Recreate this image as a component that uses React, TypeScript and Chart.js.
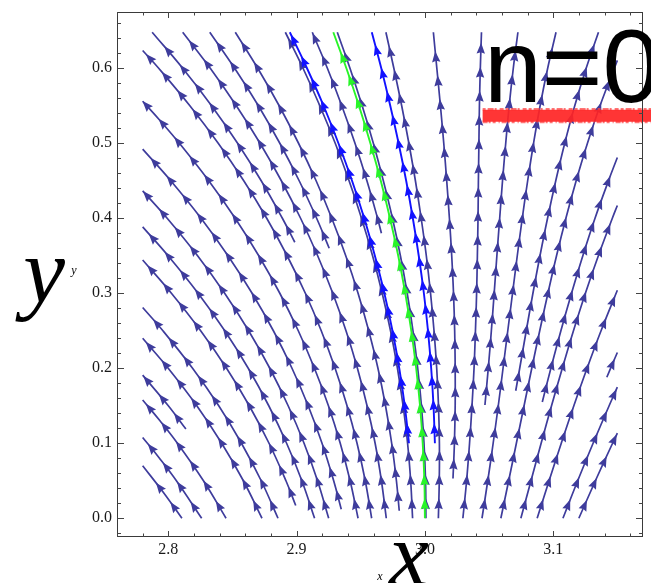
import React, { useEffect, useRef } from "react";
import { Chart, registerables } from "chart.js";

Chart.register(...registerables);

type Pt = [number, number];

// Axis extents and labelled ticks
const xRange: Pt = [2.76, 3.17];
const yRange: Pt = [-0.025, 0.675];
const xMajorTicks = [2.8, 2.9, 3.0, 3.1];
const yMajorTicks = [0.0, 0.1, 0.2, 0.3, 0.4, 0.5, 0.6];
const minorStep = 0.02;

// Streamlines left of the separatrix (flowing up and to the left)
const streamL01: Pt[] = [[2.8106, 0], [2.7959, 0.035], [2.78, 0.07]];
const streamL02: Pt[] = [[2.826, 0], [2.8063, 0.05], [2.7931, 0.08], [2.78, 0.1077]];
const streamL03: Pt[] = [[2.845, 0], [2.8274, 0.05], [2.8071, 0.1], [2.7935, 0.13], [2.78, 0.1577]];
const streamL04: Pt[] = [[2.8137, 0.119], [2.8, 0.15], [2.78, 0.1908]];
const streamL05: Pt[] = [[2.873, 0], [2.8585, 0.05], [2.8416, 0.1], [2.8222, 0.15], [2.7999, 0.2], [2.78, 0.24]];
const streamL06: Pt[] = [[2.8855, 0], [2.8724, 0.05], [2.857, 0.1], [2.8393, 0.15], [2.8189, 0.2], [2.7958, 0.25], [2.78, 0.281]];
const streamL07: Pt[] = [[2.8993, 0.017], [2.8917, 0.05], [2.8785, 0.1], [2.8631, 0.15], [2.8454, 0.2], [2.8252, 0.25], [2.8024, 0.3], [2.78, 0.3443]];
const streamL08: Pt[] = [[2.914, 0], [2.9041, 0.05], [2.8922, 0.1], [2.8783, 0.15], [2.8623, 0.2], [2.844, 0.25], [2.8232, 0.3], [2.7998, 0.35], [2.78, 0.3885]];
const streamL09: Pt[] = [[2.925, 0], [2.9163, 0.05], [2.9058, 0.1], [2.8934, 0.15], [2.8791, 0.2], [2.8626, 0.25], [2.8439, 0.3], [2.8228, 0.35], [2.7991, 0.4], [2.78, 0.4365]];
const streamL10: Pt[] = [[2.9348, 0.012], [2.9289, 0.05], [2.9198, 0.1], [2.909, 0.15], [2.8964, 0.2], [2.8819, 0.25], [2.8653, 0.3], [2.8465, 0.35], [2.8255, 0.4], [2.8019, 0.45], [2.78, 0.4922]];
const streamL11: Pt[] = [[2.9479, 0], [2.9417, 0.05], [2.934, 0.1], [2.9248, 0.15], [2.9139, 0.2], [2.9013, 0.25], [2.8869, 0.3], [2.8705, 0.35], [2.8521, 0.4], [2.8315, 0.45], [2.8086, 0.5], [2.7937, 0.53], [2.78, 0.556]];
const streamL12: Pt[] = [[2.9585, 0], [2.9535, 0.05], [2.9471, 0.1], [2.9393, 0.15], [2.93, 0.2], [2.9192, 0.25], [2.9068, 0.3], [2.8926, 0.35], [2.8767, 0.4], [2.8588, 0.45], [2.8389, 0.5], [2.8168, 0.55], [2.7925, 0.6], [2.78, 0.6237]];
const streamL13: Pt[] = [[2.8986, 0.368], [2.8889, 0.4], [2.8724, 0.45], [2.854, 0.5], [2.8337, 0.55], [2.8112, 0.6], [2.7874, 0.648]];
const streamL14: Pt[] = [[2.9699, 0], [2.9661, 0.05], [2.9612, 0.1], [2.9549, 0.15], [2.9474, 0.2], [2.9385, 0.25], [2.9282, 0.3], [2.9164, 0.35], [2.9031, 0.4], [2.8881, 0.45], [2.8715, 0.5], [2.853, 0.55], [2.8327, 0.6], [2.8112, 0.648]];
const streamL15: Pt[] = [[2.9254, 0.36], [2.9156, 0.4], [2.902, 0.45], [2.8869, 0.5], [2.8702, 0.55], [2.8517, 0.6], [2.8323, 0.648]];
const streamL16: Pt[] = [[2.98, 0.01], [2.9778, 0.05], [2.9741, 0.1], [2.9693, 0.15], [2.9634, 0.2], [2.9562, 0.25], [2.9479, 0.3], [2.9383, 0.35], [2.9274, 0.4], [2.9152, 0.45], [2.9015, 0.5], [2.8864, 0.55], [2.8697, 0.6], [2.8522, 0.648]];
const streamL17: Pt[] = [[2.9904, 0], [2.9889, 0.05], [2.9865, 0.1], [2.983, 0.15], [2.9786, 0.2], [2.9732, 0.25], [2.9667, 0.3], [2.9592, 0.35], [2.9506, 0.4], [2.9409, 0.45], [2.9301, 0.5], [2.9181, 0.55], [2.905, 0.6], [2.8912, 0.648]];
const streamL18: Pt[] = [[2.9661, 0.38], [2.9631, 0.4], [2.9548, 0.45], [2.9455, 0.5], [2.9352, 0.55], [2.924, 0.6], [2.9122, 0.648]];

// Streamline running alongside the separatrix
const streamC01: Pt[] = [[3.0008, 0], [3.0005, 0.05], [2.9993, 0.1], [2.9973, 0.15], [2.9944, 0.2], [2.9907, 0.25], [2.9862, 0.3], [2.9809, 0.35], [2.9747, 0.4], [2.9676, 0.45], [2.9598, 0.5], [2.9511, 0.55], [2.9416, 0.6], [2.9317, 0.648]];

// Streamlines right of the separatrix (flowing up and to the right)
const streamR01: Pt[] = [[3.0105, 0], [3.0112, 0.05], [3.0113, 0.1], [3.0106, 0.15], [3.0092, 0.2], [3.0071, 0.25], [3.0044, 0.3], [3.0011, 0.35], [2.9971, 0.4], [2.9926, 0.45], [2.9875, 0.5], [2.9819, 0.55], [2.9758, 0.6], [2.9696, 0.648]];
const streamR02: Pt[] = [[3.0219, 0.053], [3.023, 0.1], [3.0236, 0.15], [3.0236, 0.2], [3.0232, 0.25], [3.0223, 0.3], [3.0209, 0.35], [3.0191, 0.4], [3.017, 0.45], [3.0147, 0.5], [3.0121, 0.55], [3.0093, 0.6], [3.0066, 0.648]];
const streamR03: Pt[] = [[3.0296, 0], [3.0325, 0.05], [3.0348, 0.1], [3.0367, 0.15], [3.0383, 0.2], [3.0394, 0.25], [3.0403, 0.3], [3.0409, 0.35], [3.0414, 0.4], [3.0417, 0.45], [3.0421, 0.5], [3.0425, 0.55], [3.0432, 0.6], [3.0441, 0.648]];
const streamR04: Pt[] = [[3.0468, 0.151], [3.0494, 0.2], [3.0518, 0.25], [3.054, 0.3], [3.0561, 0.35], [3.0583, 0.4], [3.0605, 0.45], [3.063, 0.5], [3.0657, 0.55], [3.0689, 0.6], [3.0725, 0.648]];
const streamR05: Pt[] = [[3.0445, 0], [3.049, 0.05], [3.0532, 0.1], [3.0572, 0.15], [3.0609, 0.2], [3.0646, 0.25], [3.0683, 0.3], [3.072, 0.35], [3.0759, 0.4], [3.0801, 0.45], [3.0847, 0.5], [3.0898, 0.55], [3.0957, 0.6], [3.1022, 0.648]];
const streamR06: Pt[] = [[3.0708, 0.17], [3.0739, 0.2], [3.079, 0.25], [3.0842, 0.3], [3.0897, 0.35], [3.0956, 0.4], [3.102, 0.45], [3.109, 0.5], [3.1168, 0.55], [3.1257, 0.6], [3.1353, 0.648]];
const streamR07: Pt[] = [[3.0592, 0], [3.0653, 0.05], [3.0713, 0.1], [3.0773, 0.15], [3.0833, 0.2], [3.0895, 0.25], [3.0959, 0.3], [3.1026, 0.35], [3.1099, 0.4], [3.1179, 0.45], [3.1267, 0.5], [3.1365, 0.55], [3.15, 0.6105]];
const streamR08: Pt[] = [[3.0915, 0.155], [3.0982, 0.2], [3.106, 0.25], [3.1143, 0.3], [3.1231, 0.35], [3.1326, 0.4], [3.1431, 0.45], [3.15, 0.481]];
const streamR09: Pt[] = [[3.0748, 0], [3.0827, 0.05], [3.0906, 0.1], [3.0987, 0.15], [3.1071, 0.2], [3.1158, 0.25], [3.1251, 0.3], [3.1352, 0.35], [3.1461, 0.4], [3.15, 0.417]];
const streamR10: Pt[] = [[3.0875, 0], [3.0968, 0.05], [3.1063, 0.1], [3.1161, 0.15], [3.1264, 0.2], [3.1373, 0.25], [3.15, 0.304]];
const streamR11: Pt[] = [[3.1418, 0.188], [3.146, 0.205], [3.15, 0.221]];
const streamR12: Pt[] = [[3.1076, 0], [3.1191, 0.05], [3.1311, 0.1], [3.1436, 0.15], [3.15, 0.1748]];
const streamR13: Pt[] = [[3.12, 0], [3.1329, 0.05], [3.1463, 0.1], [3.15, 0.1134]];

// Highlighted trajectories
const trajBlueLeft: Pt[] = [[2.9876, 0.1], [2.9843, 0.15], [2.98, 0.2], [2.9747, 0.25], [2.9684, 0.3], [2.961, 0.35], [2.9527, 0.4], [2.9432, 0.45], [2.9326, 0.5], [2.921, 0.55], [2.9081, 0.6], [2.8947, 0.648]];
const trajBlueRight: Pt[] = [[3.0078, 0.1], [3.0067, 0.15], [3.0049, 0.2], [3.0024, 0.25], [2.9992, 0.3], [2.9952, 0.35], [2.9906, 0.4], [2.9854, 0.45], [2.9795, 0.5], [2.973, 0.55], [2.966, 0.6], [2.9586, 0.648]];
const trajGreen: Pt[] = [[3.0, 0], [2.9996, 0.05], [2.9983, 0.1], [2.9962, 0.15], [2.9932, 0.2], [2.9894, 0.25], [2.9847, 0.3], [2.9792, 0.35], [2.9728, 0.4], [2.9656, 0.45], [2.9575, 0.5], [2.9486, 0.55], [2.9388, 0.6], [2.9286, 0.648]];

// Red marker stroke under the "n=0" caption
const markerX: number[] = [3.045, 3.18];
const markerY = 0.5367;

const darkStreams: Pt[][] = [
  streamL01, streamL02, streamL03, streamL04, streamL05, streamL06, streamL07, streamL08, streamL09,
  streamL10, streamL11, streamL12, streamL13, streamL14, streamL15, streamL16, streamL17, streamL18,
  streamC01,
  streamR01, streamR02, streamR03, streamR04, streamR05, streamR06, streamR07, streamR08, streamR09,
  streamR10, streamR11, streamR12, streamR13,
];

const DARK = "rgb(62,60,156)";
const BLUE = "rgb(18,18,255)";
const GREEN = "rgb(40,245,40)";
const RED = "rgba(255,36,36,0.92)";
const SERIF = '"Liberation Serif", "Times New Roman", serif';
const SANS = '"Liberation Sans", Arial, sans-serif';

const toXY = (s: Pt[]) => s.map(([x, y]) => ({ x, y }));

function streamDataset(s: Pt[], color: string, width: number, order: number) {
  return {
    data: toXY(s),
    borderColor: color,
    backgroundColor: color,
    borderWidth: width,
    pointRadius: 0,
    tension: 0.4,
    showLine: true,
    fill: false,
    order,
    arrowColor: color,
  };
}

// Arrowheads spaced evenly along each rendered streamline
const arrowheads = {
  id: "arrowheads",
  afterDatasetDraw(chart: any, args: any) {
    const ds = chart.data.datasets[args.index];
    if (!ds || !ds.arrowColor) return;
    const pts: any[] = args.meta.data;
    if (!pts || pts.length < 2) return;
    const poly: number[][] = [];
    const steps = 16;
    for (let j = 0; j < pts.length - 1; j++) {
      const a = pts[j];
      const b = pts[j + 1];
      const c1x = a.cp2x ?? a.x, c1y = a.cp2y ?? a.y;
      const c2x = b.cp1x ?? b.x, c2y = b.cp1y ?? b.y;
      for (let k = j === 0 ? 0 : 1; k <= steps; k++) {
        const t = k / steps, m = 1 - t;
        poly.push([
          m * m * m * a.x + 3 * m * m * t * c1x + 3 * m * t * t * c2x + t * t * t * b.x,
          m * m * m * a.y + 3 * m * m * t * c1y + 3 * m * t * t * c2y + t * t * t * b.y,
        ]);
      }
    }
    const cum = [0];
    for (let i = 1; i < poly.length; i++) {
      cum.push(cum[i - 1] + Math.hypot(poly[i][0] - poly[i - 1][0], poly[i][1] - poly[i - 1][1]));
    }
    const total = cum[cum.length - 1];
    const at = (s: number) => {
      let i = 1;
      while (i < cum.length - 1 && cum[i] < s) i++;
      const seg = cum[i] - cum[i - 1] || 1;
      const t = (s - cum[i - 1]) / seg;
      return [poly[i - 1][0] + (poly[i][0] - poly[i - 1][0]) * t, poly[i - 1][1] + (poly[i][1] - poly[i - 1][1]) * t];
    };
    const ctx: CanvasRenderingContext2D = chart.ctx;
    const len = 11, half = 4.2, spacing = 24, offset = 14;
    ctx.save();
    ctx.fillStyle = ds.arrowColor;
    for (let s = offset; s <= total - 4; s += spacing) {
      const p = at(s);
      const q1 = at(Math.max(0, s - 3));
      const q2 = at(Math.min(total, s + 3));
      const ang = Math.atan2(q2[1] - q1[1], q2[0] - q1[0]);
      ctx.save();
      ctx.translate(p[0], p[1]);
      ctx.rotate(ang);
      ctx.beginPath();
      ctx.moveTo(len * 0.55, 0);
      ctx.lineTo(-len * 0.45, half);
      ctx.lineTo(-len * 0.32, 0);
      ctx.lineTo(-len * 0.45, -half);
      ctx.closePath();
      ctx.fill();
      ctx.restore();
    }
    ctx.restore();
  },
};

// Frame, inward tick marks on all four sides, and the large axis letters
const frameAndLabels = {
  id: "frameAndLabels",
  afterDraw(chart: any) {
    const ctx: CanvasRenderingContext2D = chart.ctx;
    const a = chart.chartArea;
    const xs = chart.scales.x;
    const ys = chart.scales.y;
    ctx.save();
    ctx.strokeStyle = "#3a3a3a";
    ctx.lineWidth = 1;
    ctx.strokeRect(a.left + 0.5, a.top + 0.5, a.right - a.left - 1, a.bottom - a.top - 1);

    ctx.strokeStyle = "#444";
    ctx.beginPath();
    const isMajor = (v: number) => Math.abs(v * 10 - Math.round(v * 10)) < 1e-6;
    for (let k = Math.ceil(xRange[0] / minorStep - 1e-9); k * minorStep <= xRange[1] + 1e-9; k++) {
      const v = k * minorStep;
      const px = Math.round(xs.getPixelForValue(v)) + 0.5;
      const l = isMajor(v) ? 6 : 3.5;
      ctx.moveTo(px, a.bottom); ctx.lineTo(px, a.bottom - l);
      ctx.moveTo(px, a.top); ctx.lineTo(px, a.top + l);
    }
    for (let k = Math.ceil(yRange[0] / minorStep - 1e-9); k * minorStep <= yRange[1] + 1e-9; k++) {
      const v = k * minorStep;
      const py = Math.round(ys.getPixelForValue(v)) + 0.5;
      const l = isMajor(v) ? 7 : 4;
      ctx.moveTo(a.left, py); ctx.lineTo(a.left + l, py);
      ctx.moveTo(a.right, py); ctx.lineTo(a.right - l, py);
    }
    ctx.stroke();

    ctx.fillStyle = "#000";
    ctx.textBaseline = "alphabetic";
    ctx.textAlign = "center";
    ctx.font = `italic 94px ${SERIF}`;
    ctx.fillText("y", 44, 302);
    ctx.font = `italic 90px ${SERIF}`;
    ctx.fillText("x", 409, 585);
    ctx.font = `italic 12px ${SERIF}`;
    ctx.fillText("y", 74, 274);
    ctx.fillText("x", 380, 580);
    ctx.textAlign = "left";
    ctx.font = `104px ${SANS}`;
    ctx.fillText("n=0", 484, 102);
    ctx.restore();
  },
};

export default function App() {
  const ref = useRef<HTMLCanvasElement | null>(null);

  useEffect(() => {
    const canvas = ref.current;
    if (!canvas) return;

    const datasets: any[] = [
      ...darkStreams.map((s) => streamDataset(s, DARK, 1.7, 3)),
      streamDataset(trajBlueLeft, BLUE, 1.9, 2),
      streamDataset(trajBlueRight, BLUE, 1.9, 2),
      streamDataset(trajGreen, GREEN, 1.9, 1),
      {
        data: markerX.map((x) => ({ x, y: markerY })),
        borderColor: RED,
        borderWidth: 12,
        pointRadius: 0,
        showLine: true,
        clip: false,
        order: 0,
      },
      {
        data: markerX.map((x) => ({ x, y: markerY + 0.0085 })),
        borderColor: "rgba(255,70,70,0.75)",
        borderWidth: 2.5,
        borderDash: [3, 2, 6, 1, 2, 3, 4, 2],
        pointRadius: 0,
        showLine: true,
        clip: false,
        order: 0,
      },
      {
        data: markerX.map((x) => ({ x, y: markerY - 0.0085 })),
        borderColor: "rgba(255,70,70,0.75)",
        borderWidth: 2.5,
        borderDash: [5, 1, 2, 2, 3, 3, 1, 2],
        pointRadius: 0,
        showLine: true,
        clip: false,
        order: 0,
      },
    ];

    const tickFont = { family: SERIF, size: 16 };
    const chart = new Chart(canvas, {
      type: "scatter",
      data: { datasets },
      options: {
        animation: false,
        responsive: false,
        maintainAspectRatio: false,
        events: [],
        layout: { padding: { left: 0, top: 12, right: 8, bottom: 0 } },
        plugins: { legend: { display: false }, tooltip: { enabled: false } },
        scales: {
          x: {
            type: "linear",
            min: xRange[0],
            max: xRange[1],
            grid: { display: false, drawTicks: false },
            border: { display: false },
            ticks: {
              padding: 3,
              font: tickFont,
              color: "#1a1a1a",
              maxRotation: 0,
              autoSkip: false,
              callback: (v: any) => Number(v).toFixed(1),
            },
            afterBuildTicks: (s: any) => {
              s.ticks = xMajorTicks.map((value) => ({ value }));
            },
            afterFit: (s: any) => {
              s.height = 46;
              s.paddingLeft = 0; s.paddingRight = 0; s.paddingTop = 0; s.paddingBottom = 0;
            },
          },
          y: {
            type: "linear",
            min: yRange[0],
            max: yRange[1],
            grid: { display: false, drawTicks: false },
            border: { display: false },
            ticks: {
              padding: 5,
              font: tickFont,
              color: "#1a1a1a",
              autoSkip: false,
              callback: (v: any) => Number(v).toFixed(1),
            },
            afterBuildTicks: (s: any) => {
              s.ticks = yMajorTicks.map((value) => ({ value }));
            },
            afterFit: (s: any) => {
              s.width = 117;
              s.paddingLeft = 0; s.paddingRight = 0; s.paddingTop = 0; s.paddingBottom = 0;
            },
          },
        },
      } as any,
      plugins: [arrowheads, frameAndLabels],
    });

    return () => chart.destroy();
  }, []);

  return (
    <div style={{ position: "fixed", left: 0, top: 0, width: 651, height: 583, background: "#fff" }}>
      <canvas ref={ref} width={651} height={583} style={{ display: "block", width: 651, height: 583 }} />
    </div>
  );
}
